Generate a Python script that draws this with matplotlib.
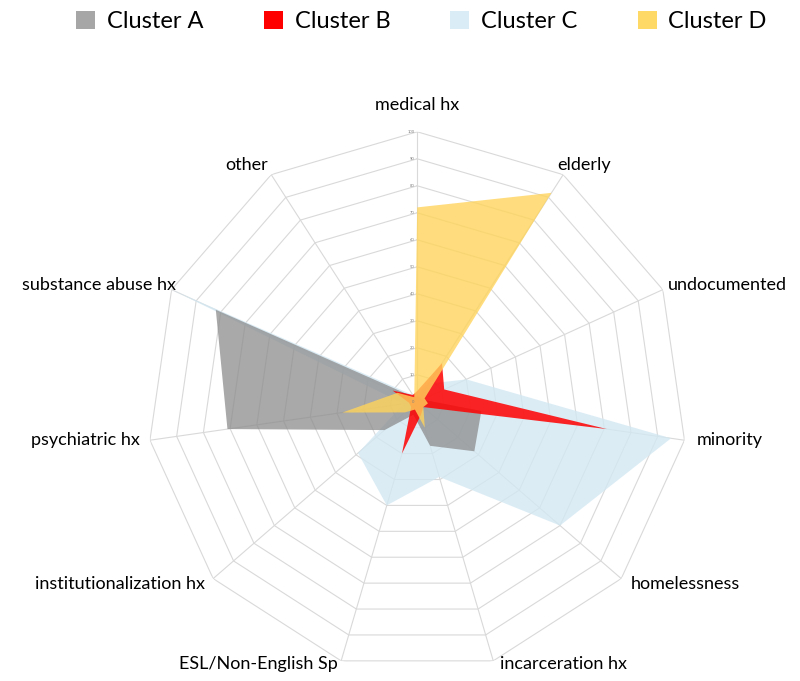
import numpy as np
import matplotlib
matplotlib.use("Agg")
import matplotlib.pyplot as plt
from matplotlib.patches import Patch

plt.rcParams['font.family'] = ['Lato', 'DejaVu Sans']

categories = ["medical hx", "elderly", "undocumented", "minority", "homelessness",
              "incarceration hx", "ESL/Non-English Sp", "institutionalization hx",
              "psychiatric hx", "substance abuse hx", "other"]
cluster_a = [2, 2, 2, 24, 28, 17, 5, 16, 71, 82, 2]
cluster_b = [4, 17, 11, 71, 3, 5, 20, 3, 3, 10, 3]
cluster_c = [3, 8, 20, 95, 70, 29, 40, 29, 5, 100, 3]
cluster_d = [72, 92, 3, 4, 3, 10, 3, 6, 28, 8, 2]
series_names = ["Cluster A", "Cluster B", "Cluster C", "Cluster D"]
ring_values = list(range(0, 101, 10))

colors = ["#a6a6a6", "#ff0000", "#daecf6", "#ffd966"]
fill_colors = ["#8c8c8c", "#ff0000", "#d3e8f3", "#ffd45c"]
alphas = [0.75, 0.85, 0.8, 0.8]
draw_order = [2, 0, 1, 3]  # blue at the bottom, yellow on top

n = len(categories)
theta = np.linspace(0, 2 * np.pi, n, endpoint=False)
theta_closed = np.append(theta, theta[0])

fig = plt.figure(figsize=(8, 6.81), dpi=100)
ax = fig.add_axes([0.184, 0.0135, 0.675, 0.793], projection="polar")
ax.set_theta_offset(np.pi / 2)
ax.set_theta_direction(-1)
ax.set_ylim(0, 100)
ax.grid(False)
ax.spines["polar"].set_visible(False)
ax.set_xticks([])
ax.set_yticks([])

# polygon grid + spokes
for r in ring_values[1:]:
    ax.plot(theta_closed, [r] * (n + 1), color="#d9d9d9", lw=0.8, zorder=1)
for t in theta:
    ax.plot([t, t], [0, 100], color="#d9d9d9", lw=0.8, zorder=1)
for r in ring_values:
    ax.annotate(str(r), xy=(0, r), xytext=(-2, 0), textcoords="offset points",
                fontsize=3, color="#808080", ha="right", va="center")

all_series = [cluster_a, cluster_b, cluster_c, cluster_d]
for i in draw_order:
    v = np.append(all_series[i], all_series[i][0])
    ax.fill(theta_closed, v, color=fill_colors[i], alpha=alphas[i], lw=0, zorder=2)

# category labels (offsets in px)
label_offsets = [(0, 27, "center"), (-6, 10, "left"), (5, 5, "left"), (12, 0, "left"),
                 (9, -5, "left"), (7, -3, "left"), (-3, -3, "right"), (-8, -5, "right"),
                 (-10, 0, "right"), (4, 5, "right"), (-3, 10, "right")]
for t, lab, (dx, dy, ha) in zip(theta, categories, label_offsets):
    ax.annotate(lab, xy=(t, 100), xytext=(dx * 0.72, dy * 0.72), textcoords="offset points",
                ha=ha, va="center", fontsize=13, color="#000000", annotation_clip=False)

handles = [Patch(facecolor=c, edgecolor="none") for c in colors]
fig.legend(handles, series_names, loc="upper center", bbox_to_anchor=(0.527, 1.015), ncol=4,
           frameon=False, fontsize=17, handlelength=0.8, handleheight=0.8,
           handletextpad=0.5, columnspacing=2.55)

fig.savefig("out.png", dpi=100)
